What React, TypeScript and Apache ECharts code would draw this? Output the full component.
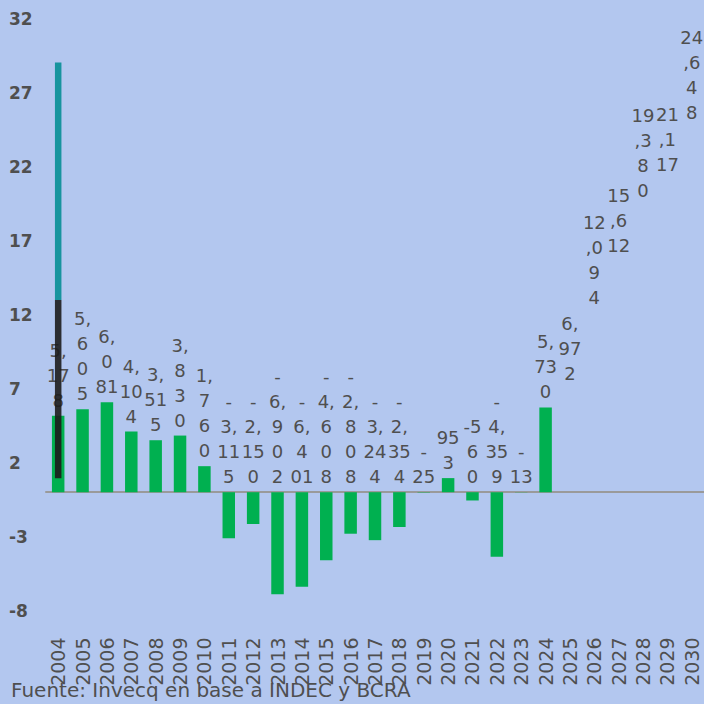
import React, { useEffect, useRef } from "react";
import * as echarts from "echarts";

const years = [
  "2004", "2005", "2006", "2007", "2008", "2009", "2010", "2011", "2012",
  "2013", "2014", "2015", "2016", "2017", "2018", "2019", "2020", "2021",
  "2022", "2023", "2024", "2025", "2026", "2027", "2028", "2029", "2030",
];

const values = [
  5.178, 5.605, 6.081, 4.104, 3.515, 3.83, 1.76, -3.115, -2.15, -6.902,
  -6.401, -4.608, -2.808, -3.244, -2.354, -0.025, 0.953, -0.56, -4.359,
  -0.013, 5.73, 6.972, 12.094, 15.612, 19.38, 21.117, 24.648,
];

// labels as shown (wrapped) in the reference
const valueLabels = [
  "5,\n17\n8", "5,\n6\n0\n5", "6,\n0\n81", "4,\n10\n4", "3,\n51\n5",
  "3,\n8\n3\n0", "1,\n7\n6\n0", "-\n3,\n11\n5", "-\n2,\n15\n0",
  "-\n6,\n9\n0\n2", "-\n6,\n4\n01", "-\n4,\n6\n0\n8", "-\n2,\n8\n0\n8",
  "-\n3,\n24\n4", "-\n2,\n35\n4", "-\n25", "95\n3", "-5\n6\n0",
  "-\n4,\n35\n9", "-\n13", "5,\n73\n0", "6,\n97\n2", "12\n,0\n9\n4",
  "15\n,6\n12", "19\n,3\n8\n0", "21\n,1\n17", "24\n,6\n4\n8",
];

// years whose bars are not drawn (projections)
const hiddenFrom = 21;

// overlay segments on 2004: [categoryIndex, low, high]
const overlaySegments = [
  [0, 13.0, 29.05],
  [0, 0.95, 13.0],
];
const overlayColors = ["#17949e", "#1c1c1c"];

const sourceText = "Fuente: Invecq en base a INDEC y BCRA";

const TEXT = "#4f4f4f";
const FONT = "'DejaVu Sans', 'Noto Sans', sans-serif";

export default function App() {
  const ref = useRef<HTMLDivElement>(null);

  useEffect(() => {
    if (!ref.current) return;
    const chart = echarts.init(ref.current, undefined, { renderer: "svg" });
    chart.setOption({
      animation: false,
      backgroundColor: "#b3c7ef",
      textStyle: { fontFamily: FONT },
      grid: { left: 46, right: -1, top: 19, bottom: 704 - 610.5 },
      xAxis: [
        {
          type: "category",
          data: years,
          position: "bottom",
          axisLine: { show: false, onZero: false },
          axisTick: { show: false },
          axisLabel: {
            rotate: 90,
            margin: 27,
            fontSize: 19,
            color: TEXT,
            fontFamily: FONT,
            interval: 0,
          },
        },
        {
          type: "category",
          data: years,
          position: "bottom",
          axisLine: { show: true, onZero: true, lineStyle: { color: "#9a9a9a", width: 2 } },
          axisTick: { show: false },
          axisLabel: { show: false },
        },
      ],
      yAxis: {
        type: "value",
        min: -8,
        max: 32,
        interval: 5,
        splitLine: { show: false },
        axisLine: { show: false },
        axisTick: { show: false },
        axisLabel: {
          align: "left",
          margin: 37,
          fontSize: 17,
          fontWeight: "bold",
          color: TEXT,
          fontFamily: FONT,
        },
      },
      series: [
        {
          type: "bar",
          xAxisIndex: 0,
          barWidth: 12.5,
          z: 2,
          data: values.map((v, i) => ({
            value: v,
            itemStyle: { color: i >= hiddenFrom ? "rgba(0,0,0,0)" : "#00b050" },
          })),
          label: {
            show: true,
            position: "top",
            distance: 3,
            fontSize: 18,
            lineHeight: 25,
            color: TEXT,
            fontFamily: FONT,
            align: "center",
            formatter: (p: any) => valueLabels[p.dataIndex],
          },
        },
        {
          type: "custom",
          xAxisIndex: 0,
          z: 5,
          data: overlaySegments.map((s, i) => ({
            value: s,
            itemStyle: { color: overlayColors[i], opacity: i === 1 ? 0.9 : 1 },
          })),
          renderItem: (params: any, api: any) => {
            const x = api.value(0);
            const lo = api.value(1);
            const hi = api.value(2);
            const p1 = api.coord([x, hi]);
            const p2 = api.coord([x, lo]);
            return {
              type: "rect",
              shape: { x: p1[0] - 3.25, y: p1[1], width: 6.5, height: p2[1] - p1[1] },
              style: api.style(),
            };
          },
        },
      ],
      graphic: [
        {
          type: "text",
          left: 11,
          top: 680,
          z: 10,
          style: {
            text: sourceText,
            fontSize: 20,
            fill: TEXT,
            fontFamily: FONT,
          },
        },
      ],
    });
    return () => chart.dispose();
  }, []);

  return (
    <div
      ref={ref}
      style={{ position: "fixed", left: 0, top: 0, width: 704, height: 704 }}
    />
  );
}
